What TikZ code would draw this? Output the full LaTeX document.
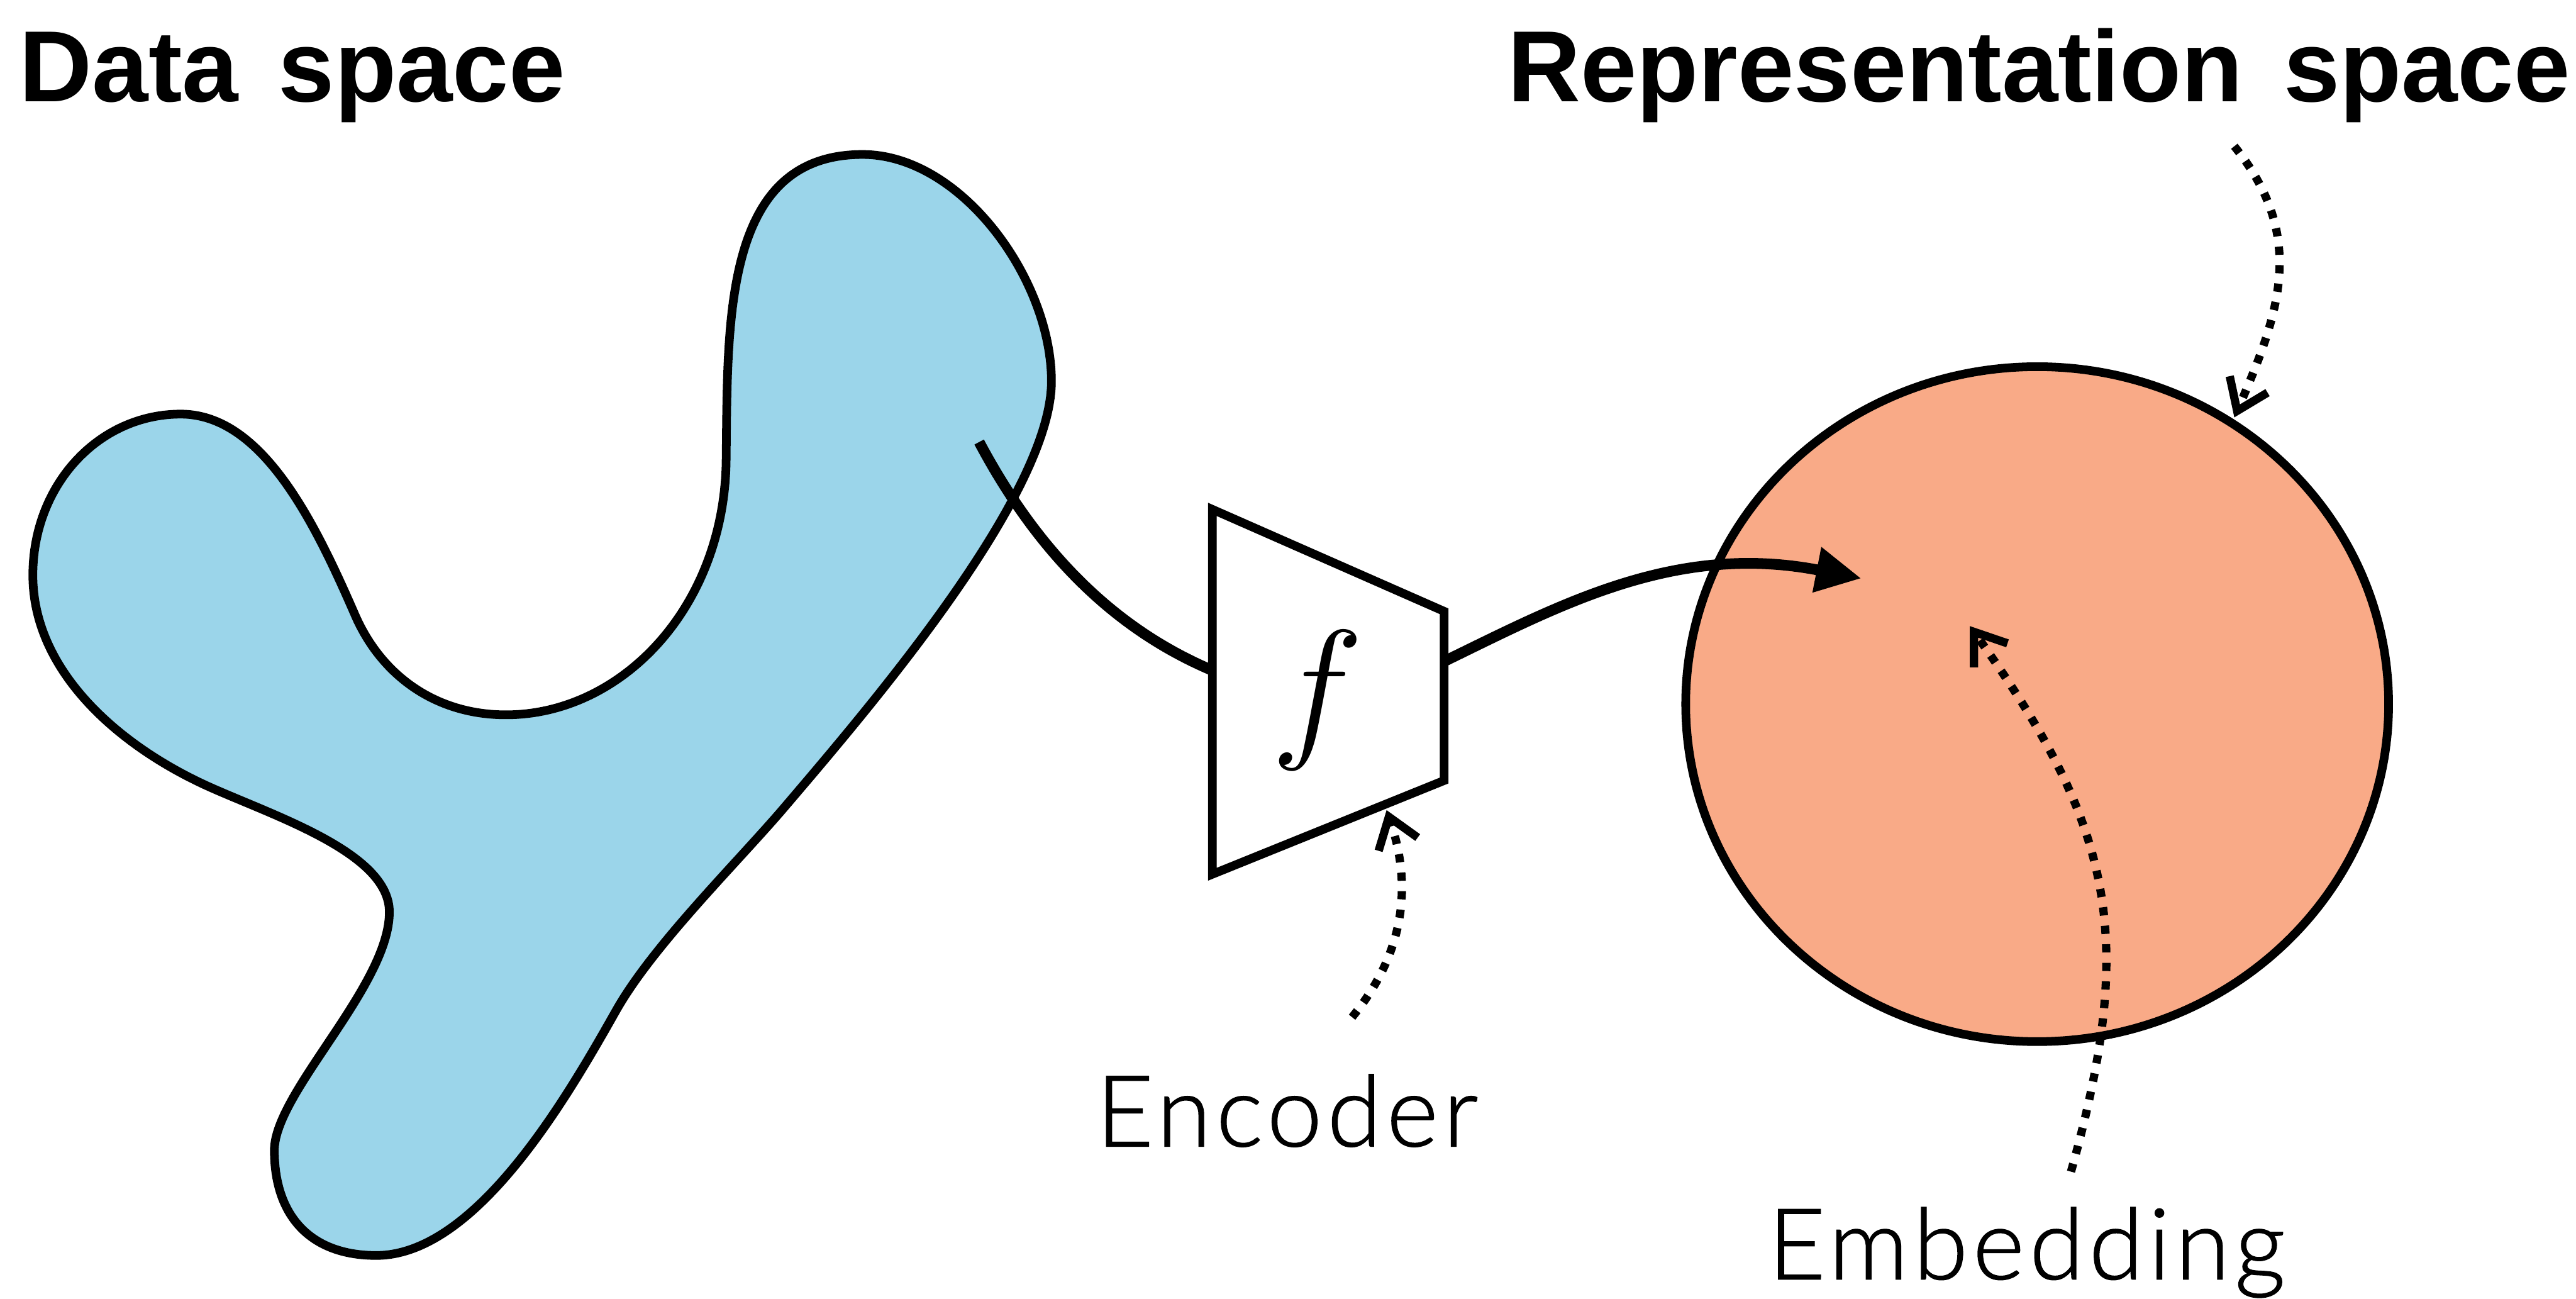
\documentclass[tikz,border=0pt]{standalone}
\usepackage{fontspec}
\setmainfont{Liberation Sans}
\newfontfamily\labelfont[LetterSpace=5,FakeBold=1]{Lato Light}
\usetikzlibrary{arrows.meta,shapes.geometric}
\definecolor{datablue}{RGB}{155,213,234}
\definecolor{reporange}{RGB}{249,170,135}
\begin{document}
\begin{tikzpicture}[x=0.028cm,y=-0.028cm,
  outline/.style={line width=4.2pt,line join=round},
  flow/.style={line width=5.2pt},
  flowarrow/.style={flow,-{Triangle[length=22pt,width=21pt]}},
  pointer/.style={line width=4pt,dash pattern=on 4pt off 5pt,
    -{Straight Barb[length=14pt,width=20pt]}},
  title/.style={inner sep=0pt,anchor=base west,
    font=\bfseries\fontsize{49}{49}\selectfont},
  caption/.style={inner sep=0pt,anchor=base west,
    font=\labelfont\fontsize{48}{48}\selectfont}]
\useasboundingbox (0,0) rectangle (1568,790.4);

% titles
\node[title] (datatitle) at (11.5,62) {\spaceskip=0.4em Data space};
\node[title] (reptitle) at (917.5,62) {\spaceskip=0.4em Representation space};

% data manifold
\draw[outline,fill=datablue]
  (525,94) .. controls (585,94) and (640,170) .. (640,232)
  .. controls (640,302) and (528,432) .. (476,493)
  .. controls (446.7,527) and (397,576) .. (375,615)
  .. controls (345.6,667) and (290,764) .. (229,764)
  .. controls (189,764) and (167,740) .. (167,700)
  .. controls (167,665) and (237,600) .. (237,555)
  .. controls (237,520) and (171,498) .. (130,480)
  .. controls (75,456) and (20,410) .. (20,350)
  .. controls (20,295) and (60,252) .. (110,252)
  .. controls (160,252) and (192,319) .. (216,374)
  .. controls (232,411) and (265,435) .. (308,435)
  .. controls (378,435) and (441,370) .. (442,280)
  .. controls (443,195) and (440,94) .. cycle;
\coordinate (sample) at (596,269);

% encoder
\coordinate (enc-nw) at (738,310);
\coordinate (enc-ne) at (879,372);
\coordinate (enc-se) at (879,475);
\coordinate (enc-sw) at (738,532);
\coordinate (enc-in) at (738,408);
\coordinate (enc-out) at (879,402.5);
\draw[flow] (sample) .. controls (629,331) and (674,381) .. (enc-in);
\draw[outline,line join=miter,fill=white]
  (enc-nw) -- (enc-ne) -- (enc-se) -- (enc-sw) -- cycle;
\node[inner sep=0pt,scale=3.05,font=\fontsize{24.88}{24.88}\selectfont]
  (f) at (802,426) {$f$};

% representation space
\node[ellipse,draw,line width=4.2pt,fill=reporange,
  minimum width=11.98cm,minimum height=11.5cm,inner sep=0pt]
  (rep) at (1240,428.5) {};
\coordinate (embed) at (1133,352);
\draw[flowarrow] (enc-out) .. controls (950,368) and (1020,330) .. (embed);

% labels and pointers
\node[caption] (enclabel) at (667,697.6) {Encoder};
\node[caption] (emblabel) at (1076,778.5) {Embedding};
\coordinate (encptr) at (823,619);
\coordinate (enc-edge) at (844,493);
\draw[pointer] (encptr) .. controls (854.5,580.5) and (860,540) .. (enc-edge);
\coordinate (repptr) at (1360,89);
\coordinate (rep-edge) at (1360,254);
\draw[pointer] (repptr) .. controls (1404,143.6) and (1388,189.6) .. (rep-edge);
\coordinate (embptr) at (1260.6,713);
\coordinate (emb-point) at (1199,381);
\draw[pointer] (embptr) .. controls (1301,569) and (1286,502.5) .. (emb-point);
\end{tikzpicture}
\end{document}
